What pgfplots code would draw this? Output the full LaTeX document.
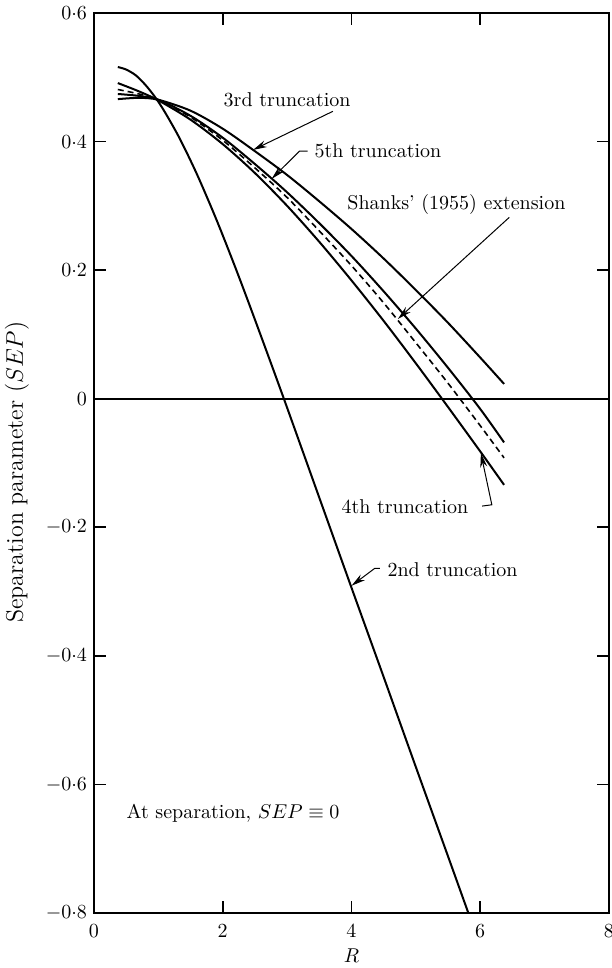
\documentclass[border=0pt]{standalone}
\usepackage{pgfplots}
\pgfplotsset{compat=1.18}
\usetikzlibrary{arrows.meta,calc}
\begin{document}
\begin{tikzpicture}
\begin{axis}[name=ax,
  scale only axis, width=257.5pt, height=450pt,
  xmin=0, xmax=8, ymin=-0.8, ymax=0.6,
  xtick={0,2,4,6,8},
  ytick={-0.8,-0.6,-0.4,-0.2,0,0.2,0.4,0.6},
  yticklabels={$-0{\cdot}8$,$-0{\cdot}6$,$-0{\cdot}4$,$-0{\cdot}2$,$0$,$0{\cdot}2$,$0{\cdot}4$,$0{\cdot}6$},
  tick align=inside,
  major tick length=6pt,
  axis line style={line width=1.4pt},
  every tick/.style={black, line width=0.8pt},
  ticklabel style={font=\normalsize},
  xticklabel style={yshift=-2.5pt},
  xlabel={$R$},
  xlabel style={at={(axis description cs:0.5,-0.047)}, anchor=center},
  ylabel={Separation parameter ($SEP$)},
  ylabel style={font=\large, at={(axis description cs:-0.1495,0.49)}, anchor=center},
  curve/.style={black, line width=1pt, smooth, no markers},
]
% zero line
\addplot[black, line width=1.2pt, sharp plot, no markers] coordinates {(0,0) (8,0)};
% 2nd truncation
\addplot[curve] coordinates {(0.37,0.516) (0.5,0.512) (0.65,0.503) (0.8,0.488) (0.95,0.469) (1.1,0.446) (1.33,0.405) (1.6,0.349) (1.9,0.279) (2.2,0.203) (2.5,0.123) (2.935,0.004) (3.5,-0.154) (4.0,-0.294) (4.5,-0.433) (5.0,-0.573) (5.5,-0.712) (5.815,-0.800)};
% 3rd truncation
\addplot[curve] coordinates {(0.37,0.466) (0.7,0.468) (1.0,0.465) (1.5,0.448) (2.0,0.420) (2.5,0.385) (3.0,0.348) (3.5,0.307) (4.0,0.264) (4.5,0.218) (5.0,0.169) (5.5,0.118) (6.0,0.064) (6.37,0.023)};
% 4th truncation
\addplot[curve] coordinates {(0.37,0.491) (0.7,0.478) (1.0,0.464) (1.5,0.434) (2.0,0.396) (2.5,0.351) (3.0,0.300) (3.5,0.244) (4.0,0.184) (4.5,0.121) (5.0,0.055) (5.5,-0.013) (6.0,-0.082) (6.37,-0.134)};
% 5th truncation
\addplot[curve] coordinates {(0.37,0.474) (0.7,0.471) (1.0,0.465) (1.5,0.440) (2.0,0.406) (2.5,0.365) (3.0,0.321) (3.5,0.273) (4.0,0.222) (4.5,0.167) (5.0,0.109) (5.5,0.048) (6.0,-0.016) (6.37,-0.068)};
% Shanks (1955) extension
\addplot[curve, line width=0.8pt, dash pattern=on 3pt off 2pt] coordinates {(0.37,0.481) (0.7,0.474) (1.0,0.465) (1.5,0.438) (2.0,0.402) (2.5,0.359) (3.0,0.313) (3.5,0.261) (4.0,0.207) (4.5,0.149) (5.0,0.087) (5.5,0.024) (6.0,-0.042) (6.37,-0.092)};
% annotations
\tikzset{lab arrow/.style={line width=0.5pt, -{Stealth[length=7pt,width=3.5pt]}}}
\node at (axis cs:3.0,0.465) {3rd truncation};
\draw[lab arrow] (axis cs:3.71,0.447) -- (axis cs:2.47,0.387);
\node at (axis cs:4.41,0.385) {5th truncation};
\draw[lab arrow] (axis cs:3.32,0.385) -- (axis cs:3.19,0.385) -- (axis cs:2.76,0.342);
\node at (axis cs:5.63,0.302) {Shanks' (1955) extension};
\draw[lab arrow] (axis cs:6.45,0.282) -- (axis cs:4.72,0.124);
\node at (axis cs:4.83,-0.168) {4th truncation};
\draw[lab arrow] (axis cs:6.03,-0.167) -- (axis cs:6.18,-0.165) -- (axis cs:6.01,-0.085);
\node at (axis cs:5.57,-0.266) {2nd truncation};
\draw[lab arrow] (axis cs:4.44,-0.264) -- (axis cs:4.36,-0.264) -- (axis cs:4.0,-0.291);
\node at (axis cs:2.16,-0.645) {At separation, $SEP\equiv 0$};
\end{axis}
\pgfresetboundingbox
\path[use as bounding box] ($(ax.south west)+(-47pt,-27.5pt)$) rectangle ($(ax.north east)+(1.5pt,6.5pt)$);
\end{tikzpicture}
\end{document}
